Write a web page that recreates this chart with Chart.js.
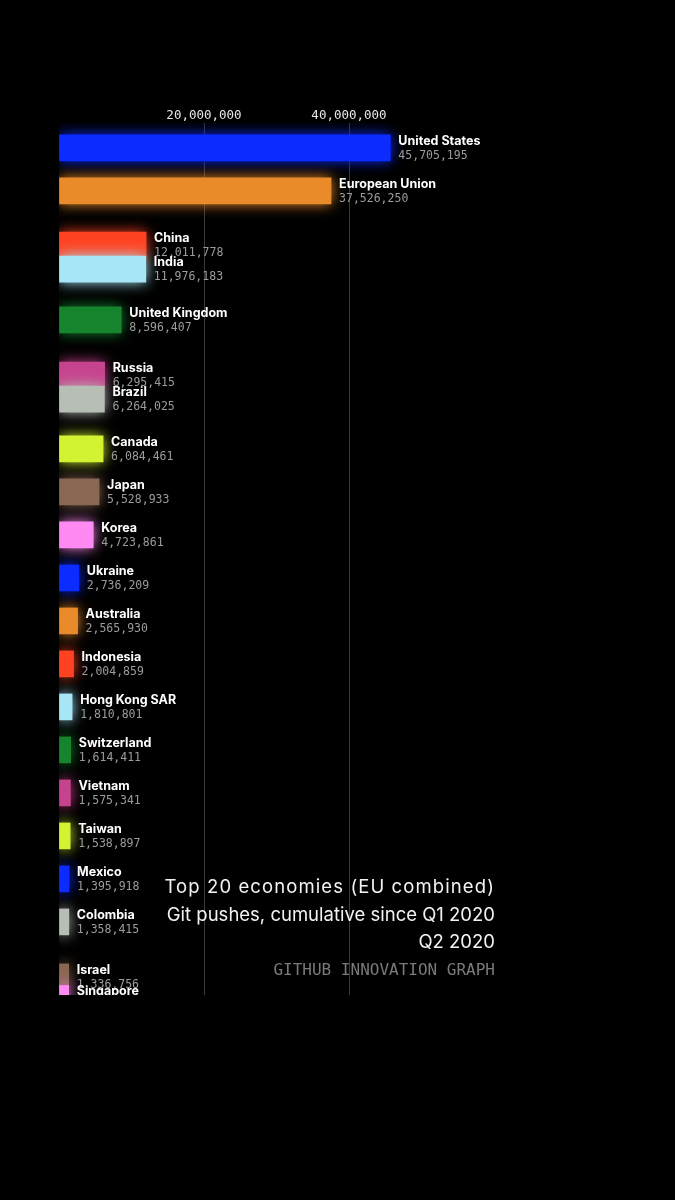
<!DOCTYPE html>
<html>
<head>
<meta charset="utf-8">
<script src="https://cdn.jsdelivr.net/npm/chart.js@4/dist/chart.umd.min.js"></script>
<style>
  html, body { margin: 0; padding: 0; background: #000; }
  #wrap { position: relative; width: 675px; height: 1200px; }
  #info {
    position: absolute; right: 180px; top: 873px;
    text-align: right; color: #f2f2f2;
    font-family: Inter, "Noto Sans", sans-serif; font-size: 18.5px;
  }
  #info div { height: 27.5px; line-height: 27.5px; white-space: nowrap; }
  #info .wide { letter-spacing: 1.1px; }
  #info .src { color: #7a7a7a; font-family: "DejaVu Sans Mono", monospace; font-size: 16px; }
</style>
</head>
<body>
<div id="wrap">
  <canvas id="race" width="675" height="1200"></canvas>
  <div id="info">
    <div class="wide">Top 20 economies (EU combined)</div>
    <div>Git pushes, cumulative since Q1 2020</div>
    <div>Q2 2020</div>
    <div class="src">GITHUB INNOVATION GRAPH</div>
  </div>
</div>
<script>
'use strict';

// 国・地域
const countries = [
  'United States', 'European Union', 'China', 'India', 'United Kingdom',
  'Russia', 'Brazil', 'Canada', 'Japan', 'Korea',
  'Ukraine', 'Australia', 'Indonesia', 'Hong Kong SAR', 'Switzerland',
  'Vietnam', 'Taiwan', 'Mexico', 'Colombia', 'Israel', 'Singapore'
];
// Git pushes（累計）
const pushes = [
  45705195, 37526250, 12011778, 11976183, 8596407,
  6295415, 6264025, 6084461, 5528933, 4723861,
  2736209, 2565930, 2004859, 1810801, 1614411,
  1575341, 1538897, 1395918, 1358415, 1336756, 1340000
];
// 順位（入れ替わり途中のフレーム）
const ranks = [
  0, 1, 2.26, 2.82, 4,
  5.28, 5.84, 7, 8, 9,
  10, 11, 12, 13, 14,
  15, 16, 17, 18, 19.28, 19.78
];
// 目盛り
const xTicks = [20000000, 40000000];

// 色
const barColors = [
  '#0b2bff', '#e98a2b', '#ff4322', '#a6e6f7', '#15842d',
  '#c6448e', '#b7beb6', '#d2f331', '#8a6752', '#ff8af3',
  '#0b2bff', '#e98a2b', '#ff4322', '#a6e6f7', '#15842d',
  '#c6448e', '#d2f331', '#0b2bff', '#b7beb6', '#8a6752', '#ff8af3'
];

// バーにグロー
const origBarDraw = Chart.BarElement.prototype.draw;
Chart.BarElement.prototype.draw = function (ctx) {
  ctx.save();
  ctx.shadowColor = this.options.backgroundColor;
  ctx.shadowBlur = 14;
  origBarDraw.call(this, ctx);
  ctx.restore();
};

const fmt = (v) => v.toLocaleString('en-US');

// バー右側のラベル
const barLabels = {
  id: 'barLabels',
  afterDatasetsDraw(chart) {
    const { ctx, chartArea } = chart;
    const meta = chart.getDatasetMeta(0);
    ctx.save();
    ctx.beginPath();
    ctx.rect(0, chartArea.top - 20, chart.width, chartArea.bottom - chartArea.top + 20);
    ctx.clip();
    ctx.textAlign = 'left';
    ctx.textBaseline = 'middle';
    meta.data.forEach((bar, i) => {
      const x = bar.x + 8;
      ctx.fillStyle = '#ffffff';
      ctx.font = '700 12.5px Inter, "Noto Sans", sans-serif';
      ctx.fillText(countries[i], x, bar.y - 7);
      ctx.fillStyle = '#9c9c9c';
      ctx.font = '11.5px "DejaVu Sans Mono", monospace';
      ctx.fillText(fmt(pushes[i]), x, bar.y + 8);
    });
    ctx.restore();
  },
};

const chart = new Chart(document.getElementById('race'), {
  type: 'bar',
  data: {
    datasets: [{
      data: countries.map((c, i) => ({ x: pushes[i], y: ranks[i] })),
      backgroundColor: barColors,
      borderWidth: 0,
      barThickness: 26,
    }],
  },
  options: {
    indexAxis: 'y',
    responsive: false,
    animation: false,
    layout: { padding: { left: 59, right: 181, top: 101, bottom: 205 } },
    plugins: {
      legend: { display: false },
      tooltip: { enabled: false },
    },
    scales: {
      x: {
        position: 'top',
        min: 0,
        max: 60000000,
        afterBuildTicks(scale) {
          scale.ticks = [0, ...xTicks, 60000000].map((v) => ({ value: v }));
        },
        afterFit(scale) { scale.height = 22; },
        border: { display: false },
        grid: {
          drawTicks: false,
          color: (c) => (xTicks.includes(c.tick.value) ? '#3a3a3a' : 'rgba(0,0,0,0)'),
          lineWidth: 1,
        },
        ticks: {
          color: '#e6e6e6',
          padding: 0,
          font: { family: '"DejaVu Sans Mono", monospace', size: 12.5 },
          callback: (v) => (xTicks.includes(v) ? fmt(v) : ''),
        },
      },
      y: {
        type: 'linear',
        reverse: true,
        offset: false,
        grace: 0,
        min: -0.58,
        max: 19.7,
        display: false,
      },
    },
  },
  plugins: [barLabels],
});
</script>
</body>
</html>
